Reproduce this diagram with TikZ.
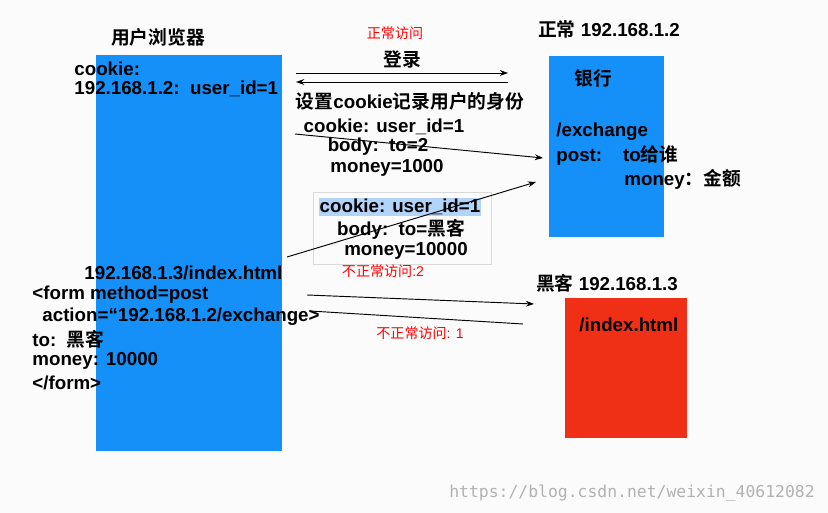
\documentclass[tikz,border=0pt]{standalone}
\usepackage{fontspec}
\setmainfont{Liberation Sans}
\newfontfamily\cjk{Noto Sans CJK SC}[BoldFont={* Bold}]
\setmonofont{DejaVu Sans Mono}
\usetikzlibrary{positioning,arrows.meta}
\definecolor{browserblue}{RGB}{20,144,248}
\definecolor{hackred}{RGB}{240,48,22}
\definecolor{hilite}{RGB}{178,212,248}
\tikzset{every node/.style={inner sep=1pt, font=\bfseries\fontsize{16}{18}\selectfont},
         redtxt/.style={text=red, font=\fontsize{12}{14}\selectfont},
         lft/.style={anchor=west},
         every edge/.style={draw, -{Stealth[length=7pt,width=5pt]}, thick}}
\begin{document}
\begin{tikzpicture}[x=0.03cm, y=-0.03cm]
  \useasboundingbox (0,0) rectangle (828,513);
  \fill[gray!3] (0,0) rectangle (828,513);

  % boxes
  \fill[browserblue] (96,55) rectangle (282,451);
  \fill[browserblue] (549,56) rectangle (664,237);
  \fill[hackred] (565,298) rectangle (687,438);
  \draw[gray!30] (313,192) rectangle (491,264);

  % browser side
  \node (browser) at (158,37) {\cjk 用户浏览器};
  \node[lft] (ck) at (73,69) {cookie:};
  \node[lft] (ckval) at (73,89) {192.168.1.2:\ \ user\_id=1};
  \node[lft] (idx) at (83,273) {192.168.1.3/index.html};
  \node[lft] (f1) at (31,295) {<form method=post};
  \node[lft] (f2) at (41,317) {action=“192.168.1.2/exchange>};
  \node[lft] (f3) at (31,339) {to:\ \ {\cjk 黑客}};
  \node[lft] (f4) at (31,361) {money: 10000};
  \node[lft] (f5) at (31,383) {</form>};

  % normal access
  \node[redtxt] (normal) at (395,33) {\cjk 正常访问};
  \node (login) at (402,59) {\cjk 登录};
  \coordinate (lgA) at (296,73);
  \coordinate (lgB) at (508,73);
  \coordinate (rtA) at (508,82);
  \coordinate (rtB) at (296,82);
  \draw (lgA) edge (lgB) (rtA) edge (rtB);
  \node (setck) at (410,101) {{\cjk 设置}cookie{\cjk 记录用户的身份}};
  \node (b1) at (384,127) {cookie: user\_id=1};
  \node (b2) at (378,147) {body:\ \ to=2};
  \node (b3) at (387,168) {money=1000};
  \coordinate (nA) at (295,134);
  \coordinate (nB) at (543,158);
  \draw (nA) edge (nB);

  % forged request
  \node[fill=hilite] (h1) at (400,207) {cookie: user\_id=1};
  \node (h2) at (401,229) {body:\ \ to={\cjk 黑客}};
  \node (h3) at (406,251) {money=10000};
  \node[redtxt] (ab2) at (383,271) {{\cjk 不正常访问}:2};
  \coordinate (fA) at (287,257);
  \coordinate (fB) at (536,182);
  \draw (fA) edge (fB);

  % bank
  \node (bankip) at (609,29) {{\cjk 正常} 192.168.1.2};
  \node (bank) at (593,78) {\cjk 银行};
  \node[lft] (ex) at (555,132) {/exchange};
  \node[lft] (post) at (555,155) {post:\ \ \ \ to{\cjk 给谁}};
  \node[lft] (money) at (623,179) {money{\cjk ：金额}};

  % hacker
  \node (hackip) at (607,283) {{\cjk 黑客} 192.168.1.3};
  \node[lft] (hidx) at (578,325) {/index.html};
  \coordinate (kA) at (307,295);
  \coordinate (kB) at (534,304);
  \coordinate (kC) at (523,324);
  \coordinate (kD) at (310,311);
  \draw (kA) edge (kB);
  \draw[thick] (kC) -- (kD);
  \node[redtxt] (ab1) at (420,333) {{\cjk 不正常访问}: 1};

  \node[font=\ttfamily\fontsize{14}{16}\selectfont, text=gray!60] (wm) at (632,493) {https://blog.csdn.net/weixin\_40612082};
\end{tikzpicture}
\end{document}
